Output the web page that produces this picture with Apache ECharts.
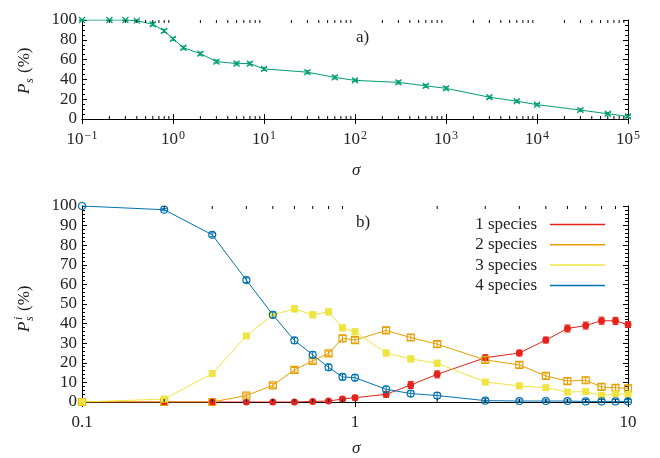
<!DOCTYPE html>
<html><head><meta charset="utf-8">
<script src="https://cdn.jsdelivr.net/npm/echarts@6/dist/echarts.min.js"></script>
<style>html,body{margin:0;padding:0;background:#fff}#c{width:660px;height:458px}</style>
</head><body><div id="c"></div>
<script>
// ---- panel a) data ----
const sigmaA = [0.1,0.2,0.3,0.4,0.6,0.8,1,1.3,2,3,5,7,10,30,60,100,300,600,1000,3000,6000,10000,30000,60000,100000];
const psA    = [100,100,100,99.3,95.7,89,81,72,66,58,56,56,50.6,47.3,42,39,37,33.5,31,22,18,14.5,9,5.3,2.6];
const errA   = [0.5,0.5,0.5,1,1.5,1.5,1.5,1.5,1.5,1.5,1.5,1.5,1.5,1.5,1.5,1.2,1.5,1.5,1.5,1.2,1.2,1.2,1.2,1.2,1.2];
// ---- panel b) data ----
const sigmaB = [0.1,0.2,0.3,0.4,0.5,0.6,0.7,0.8,0.9,1,1.3,1.6,2,3,4,5,6,7,8,9,10];
const sp1 = [0,0,0,0,0,0,0.3,0.5,1.5,2.2,3.9,8.7,14.1,22.6,25,31.6,37.5,39,41.5,41.4,39.5];
const sp2 = [0,0,0,3.3,8.5,16.4,21,24.8,32.5,31.6,36.5,32.9,29.5,21.5,18.9,13.3,10.7,11.1,7.7,7.2,7];
const sp3 = [0,1.5,14.5,33.7,44.5,47.5,44.5,46,37.8,35.8,25,22,19.8,10.2,8.2,7.3,5.1,5.3,3.3,4.1,4];
const sp4 = [100,98.1,85.3,62.2,44.5,31.4,24.1,17.7,12.8,12.4,6.5,4.3,3.3,0.7,0.5,0.5,0.5,0.3,0.3,0.3,0.3];
const err1 = [0,0,0,0,0,0.2,0.5,0.5,1,1.2,1.5,1.8,1.8,1.5,1.5,1.5,1.8,1.8,1.8,1.8,1.5];
const err2 = [0,0,0,0.8,1,1.2,1.2,1.2,1.5,1.5,1.5,1.5,1.5,1.5,1.5,1.5,1.5,1.5,1.5,1.5,1.5];
const err3 = [0,0.5,1,1.2,1.5,1.5,1.5,1.5,1.5,1.5,1.5,1.5,1.5,1.2,1.2,1.2,1.2,1.2,1.2,1.2,1.2];
const err4 = [0,0.5,1,1.2,1.5,1.5,1.5,1.5,1.5,1.5,1.5,1.5,1.5,1,1,1,1,1,1,1,1];
const seriesNames = ['1 species','2 species','3 species','4 species'];

const FONT = 'Liberation Serif';
const FS = 17;
const GREEN = '#009e73', RED = '#e5231b', ORANGE = '#e69f00', YELLOW = '#f0e442', BLUE = '#0072b2';

const chart = echarts.init(document.getElementById('c'), null, {renderer:'canvas'});

function pairs(xs, ys, es){ return xs.map((x,i)=> es ? [x, ys[i], es[i]] : [x, ys[i]]); }

function markerSeries(name, xs, ys, es, color, shape, gi){
  return {
    type:'custom', name, xAxisIndex: gi*2, yAxisIndex: gi*2, z: 5,
    itemStyle:{color}, data: pairs(xs, ys, es), encode:{x:0,y:1},
    renderItem(params, api){
      const x = api.value(0), y = api.value(1), e = api.value(2);
      const p = api.coord([x,y]);
      const pt = api.coord([x, Math.min(100, y+e)]);
      const pb = api.coord([x, Math.max(0, y-e)]);
      const st = {stroke: color, lineWidth: 1, fill: null};
      const ch = [];
      if (e > 0) {
        ch.push({type:'line', shape:{x1:p[0],y1:pt[1],x2:p[0],y2:pb[1]}, style:st});
        ch.push({type:'line', shape:{x1:p[0]-3,y1:pt[1],x2:p[0]+3,y2:pt[1]}, style:st});
        ch.push({type:'line', shape:{x1:p[0]-3,y1:pb[1],x2:p[0]+3,y2:pb[1]}, style:st});
      }
      const r = 3.5;
      if (shape === 'x') {
        ch.push({type:'line', shape:{x1:p[0]-3,y1:p[1]-3,x2:p[0]+3,y2:p[1]+3}, style:{stroke:color,lineWidth:1.2}});
        ch.push({type:'line', shape:{x1:p[0]-3,y1:p[1]+3,x2:p[0]+3,y2:p[1]-3}, style:{stroke:color,lineWidth:1.2}});
      } else if (shape === 'fcircle') {
        ch.push({type:'circle', shape:{cx:p[0],cy:p[1],r:r}, style:{fill:color}});
      } else if (shape === 'ocircle') {
        ch.push({type:'circle', shape:{cx:p[0],cy:p[1],r:r}, style:{fill:null, stroke:color, lineWidth:1.2}});
      } else if (shape === 'fsquare') {
        ch.push({type:'rect', shape:{x:p[0]-r,y:p[1]-r,width:2*r,height:2*r}, style:{fill:color}});
      } else if (shape === 'osquare') {
        ch.push({type:'rect', shape:{x:p[0]-r,y:p[1]-r,width:2*r,height:2*r}, style:{fill:null, stroke:color, lineWidth:1.2}});
      }
      return {type:'group', children: ch};
    }
  };
}

function lineSeries(name, xs, ys, color, gi){
  return {type:'line', name, xAxisIndex: gi*2, yAxisIndex: gi*2, data: pairs(xs, ys), showSymbol:false,
    lineStyle:{color, width:1}, itemStyle:{color}, z: 3, animation:false};
}

// minor log ticks drawn through the axis scale
function minorTickValues(lo, hi){
  const out = [];
  for (let k = lo; k < hi; k++) for (let m = 2; m <= 9; m++) out.push([m*Math.pow(10,k), 0]);
  return out;
}
function minorTickSeries(gi, lo, hi){
  return {type:'custom', xAxisIndex: gi*2, yAxisIndex: gi*2, silent:true, z: 10,
    data: minorTickValues(lo, hi), encode:{x:0,y:1},
    renderItem(params, api){
      const v = api.value(0);
      const b = api.coord([v, 0]), t = api.coord([v, 100]);
      const st = {stroke:'#000', lineWidth:1};
      return {type:'group', children:[
        {type:'line', shape:{x1:b[0],y1:b[1],x2:b[0],y2:b[1]-3}, style:st},
        {type:'line', shape:{x1:t[0],y1:t[1],x2:t[0],y2:t[1]+3}, style:st}
      ]};
    }};
}

const axisLine = {show:true, lineStyle:{color:'#000', width:1}};
const supFmt = v => { const e = Math.round(Math.log10(v)); return '{b|10}{s|' + (e < 0 ? '\u2212' + (-e) : e) + '}'; };
const richSup = { b:{fontFamily:FONT, fontSize:FS, color:'#222', lineHeight:18, verticalAlign:'bottom'},
                  s:{fontFamily:FONT, fontSize:12, color:'#222', lineHeight:12, verticalAlign:'top', padding:[0,0,0,1]} };

function yAxes(gi, interval, split){
  const base = {type:'value', gridIndex:gi, min:0, max:100, interval, splitLine:{show:false},
    axisLine, axisTick:{inside:true, length:5, lineStyle:{color:'#000'}},
    minorTick:{show:true, splitNumber:split, length:3, lineStyle:{color:'#000'}}};
  return [
    Object.assign({}, base, {position:'left', axisLabel:{margin:5, fontFamily:FONT, fontSize:FS, color:'#222'}}),
    Object.assign({}, base, {position:'right', axisLabel:{show:false}})
  ];
}
function xAxes(gi, min, max, labelCfg){
  const base = {type:'log', logBase:10, gridIndex:gi, min, max, interval:1, splitLine:{show:false},
    axisLine, axisTick:{inside:true, length:5, lineStyle:{color:'#000'}}, minorTick:{show:false}};
  return [
    Object.assign({}, base, {position:'bottom', axisLabel: labelCfg}),
    Object.assign({}, base, {position:'top', axisLabel:{show:false}})
  ];
}

const option = {
  animation:false,
  backgroundColor:'#fff',
  grid:[
    {left:82, right:32, top:20, height:99},
    {left:82, right:32, top:206, height:196}
  ],
  xAxis: [
    ...xAxes(0, 0.1, 100000, {margin:11, formatter:supFmt, rich:richSup, showMinLabel:true, showMaxLabel:true}),
    ...xAxes(1, 0.1, 10, {margin:12, fontFamily:FONT, fontSize:FS, color:'#222', formatter: v => String(+v.toPrecision(3))})
  ],
  yAxis: [...yAxes(0, 20, 4), ...yAxes(1, 10, 5)],
  legend: {
    orient:'vertical', right:50, top:211, align:'right', itemWidth:55, itemHeight:1.5, itemGap:3.3,
    icon:'rect', data: seriesNames, selectedMode:false,
    textStyle:{fontFamily:FONT, fontSize:FS, color:'#222', lineHeight:16, padding:[0,8,0,0]}
  },
  graphic: [
    {type:'text', x:356, y:29, style:{text:'a)', font:`${FS}px "${FONT}"`, fill:'#222'}},
    {type:'text', x:356, y:214, style:{text:'b)', font:`${FS}px "${FONT}"`, fill:'#222'}},
    {type:'text', x:352, y:162, style:{text:'\u03c3', font:`italic ${FS}px "${FONT}"`, fill:'#222'}},
    {type:'text', x:352, y:440, style:{text:'\u03c3', font:`italic ${FS}px "${FONT}"`, fill:'#222'}},
    {type:'group', x:25, y:68, rotation:Math.PI/2, children:[
      {type:'text', x:-26, y:0, style:{text:'P', font:`italic ${FS}px "${FONT}"`, fill:'#222', verticalAlign:'middle'}},
      {type:'text', x:-15, y:5, style:{text:'s', font:`italic 12px "${FONT}"`, fill:'#222', verticalAlign:'middle'}},
      {type:'text', x:-5, y:0, style:{text:'(%)', font:`${FS}px "${FONT}"`, fill:'#222', verticalAlign:'middle'}}
    ]},
    {type:'group', x:25, y:306, rotation:Math.PI/2, children:[
      {type:'text', x:-26, y:0, style:{text:'P', font:`italic ${FS}px "${FONT}"`, fill:'#222', verticalAlign:'middle'}},
      {type:'text', x:-15, y:5, style:{text:'s', font:`italic 12px "${FONT}"`, fill:'#222', verticalAlign:'middle'}},
      {type:'text', x:-14, y:-6, style:{text:'i', font:`italic 12px "${FONT}"`, fill:'#222', verticalAlign:'middle'}},
      {type:'text', x:-5, y:0, style:{text:'(%)', font:`${FS}px "${FONT}"`, fill:'#222', verticalAlign:'middle'}}
    ]}
  ],
  series: [
    minorTickSeries(0, -1, 5),
    minorTickSeries(1, -1, 1),
    lineSeries('Ps', sigmaA, psA, GREEN, 0),
    markerSeries('Ps', sigmaA, psA, errA, GREEN, 'x', 0),
    lineSeries(seriesNames[0], sigmaB, sp1, RED, 1),
    lineSeries(seriesNames[1], sigmaB, sp2, ORANGE, 1),
    lineSeries(seriesNames[2], sigmaB, sp3, YELLOW, 1),
    lineSeries(seriesNames[3], sigmaB, sp4, BLUE, 1),
    markerSeries(seriesNames[0], sigmaB, sp1, err1, RED, 'fcircle', 1),
    markerSeries(seriesNames[1], sigmaB, sp2, err2, ORANGE, 'osquare', 1),
    markerSeries(seriesNames[2], sigmaB, sp3, err3, YELLOW, 'fsquare', 1),
    markerSeries(seriesNames[3], sigmaB, sp4, err4, BLUE, 'ocircle', 1)
  ]
};
chart.setOption(option);
</script></body></html>
